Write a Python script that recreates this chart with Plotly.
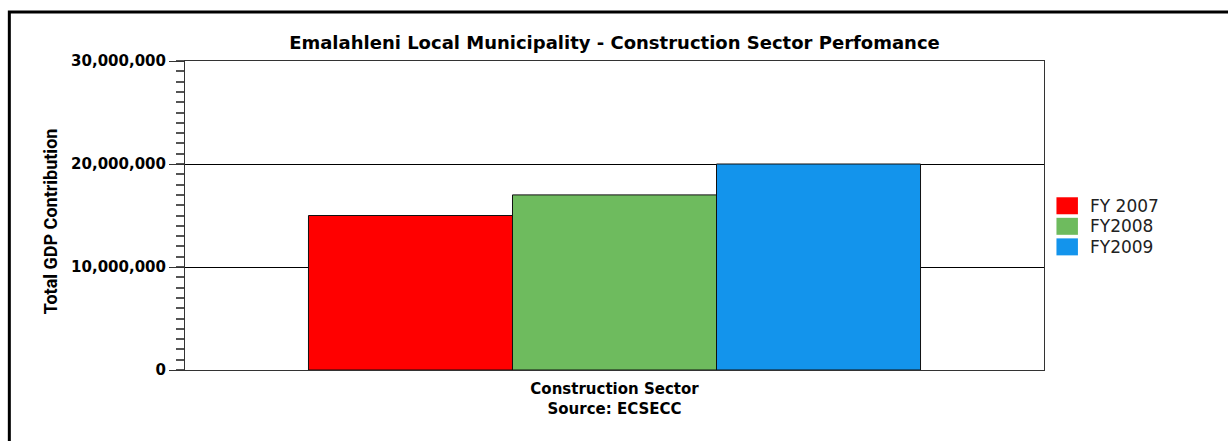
import plotly.graph_objects as go

# Construction sector GDP contribution by financial year
categories = ["Construction Sector<br>Source: ECSECC"]
series_names = ["FY 2007", "FY2008", "FY2009"]
series_values = [[15000000], [17000000], [20000000]]
series_colors = ["#FF0000", "#6EBB5E", "#1394EC"]
tick_values = [0, 10000000, 20000000, 30000000]
tick_labels = ["0", "10,000,000", "20,000,000", "30,000,000"]

fig = go.Figure()
for name, vals, color in zip(series_names, series_values, series_colors):
    fig.add_trace(go.Bar(
        x=categories, y=vals, name=name,
        marker=dict(color=color, line=dict(color="#111111", width=1)),
        showlegend=False,
    ))

# Legend drawn as large colour swatches with labels
for i, (name, color) in enumerate(zip(series_names, series_colors)):
    y0 = 0.559 - i * 0.0665
    fig.add_shape(type="rect", xref="paper", yref="paper",
                  x0=1.0145, x1=1.0395, y0=y0, y1=y0 - 0.055,
                  fillcolor=color, line=dict(width=0))
    fig.add_annotation(xref="paper", yref="paper", x=1.051, y=y0 - 0.0275,
                       text=name, showarrow=False, xanchor="left", yanchor="middle",
                       font=dict(family="DejaVu Sans", size=17, color="#222222"))

# Outer frame
fig.add_shape(type="rect", xref="paper", yref="paper",
              x0=-0.2045, x1=1.3, y0=1.1586, y1=-0.3,
              line=dict(color="black", width=3), fillcolor="rgba(0,0,0,0)")

fig.add_annotation(xref="paper", yref="paper", x=-0.157, y=0.482,
                   xanchor="center", yanchor="middle",
                   text="Total GDP Contribution", textangle=-90, showarrow=False,
                   font=dict(family="Roboto", size=18, color="black", weight="bold"))

fig.update_layout(
    width=1228, height=441,
    margin=dict(l=185, r=184, t=61, b=71),
    paper_bgcolor="white", plot_bgcolor="white",
    barmode="group", bargap=0.2875, bargroupgap=0,
    title=dict(text="<b>Emalahleni Local Municipality - Construction Sector Perfomance</b>",
               x=0.5, xref="paper", xanchor="center", y=0.9025, yref="container", yanchor="middle",
               font=dict(family="DejaVu Sans", size=18, color="black")),
    xaxis=dict(showline=True, linecolor="#333333", linewidth=1, mirror=True,
               ticks="", showgrid=False, ticklabelstandoff=5,
               tickfont=dict(family="DejaVu Sans", size=15, color="black", weight="bold")),
    yaxis=dict(range=[0, 30000000], tickvals=tick_values, ticktext=tick_labels,
               showline=True, linecolor="#333333", linewidth=1, mirror=True,
               ticks="outside", ticklen=15, tickcolor="#333333",
               showgrid=True, gridcolor="black", gridwidth=1, zeroline=False,
               tickfont=dict(family="DejaVu Sans", size=15, color="black", weight="bold"),
               minor=dict(dtick=1000000, ticks="outside", ticklen=8, tickcolor="#555555",
                          tickwidth=1.5, showgrid=False)),
)

fig.write_html("out.html")
